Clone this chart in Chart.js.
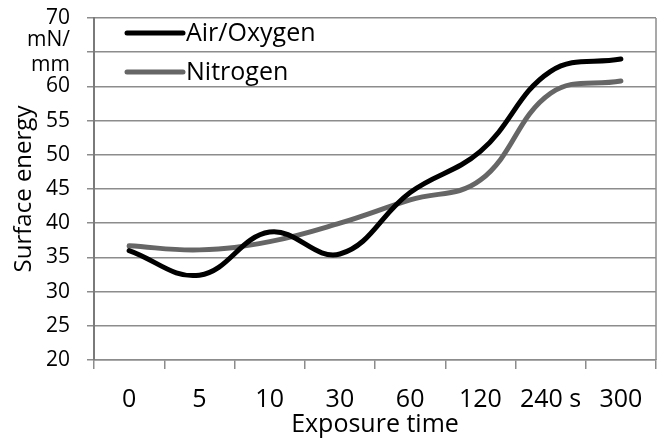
<!DOCTYPE html>
<html>
<head>
<meta charset="utf-8">
<script src="https://cdn.jsdelivr.net/npm/chart.js@4.4.0/dist/chart.umd.min.js"></script>
<style>
  html, body { margin: 0; padding: 0; background: #fff; }
  #wrap { width: 662px; height: 438px; position: relative; }
</style>
</head>
<body>
<div id="wrap"><canvas id="c" width="662" height="438"></canvas></div>
<script>
const categories = ['0', '5', '10', '30', '60', '120', '240 s', '300'];
const airOxygen = [36, 32.4, 38.7, 35.5, 44.5, 50.5, 62.2, 64];
const nitrogen = [36.7, 36.1, 37.3, 40, 43.4, 46.3, 59, 60.8];
const yMin = 20, yMax = 70, yStep = 5;
const unitTick = 65;
const unitLabel = ['mN/', 'mm'];

const FONT = '"Open Sans", sans-serif';

const frame = {
  id: 'frame',
  beforeDatasetsDraw(chart) {
    const { ctx, chartArea } = chart;
    ctx.save();
    ctx.strokeStyle = '#8c8c8c';
    ctx.lineWidth = 1.5;
    ctx.beginPath();
    ctx.moveTo(chartArea.right, chartArea.top);
    ctx.lineTo(chartArea.right, chartArea.bottom);
    ctx.stroke();
    ctx.restore();
  }
};

const insideLegend = {
  id: 'insideLegend',
  afterDraw(chart) {
    const { ctx } = chart;
    ctx.save();
    ctx.font = '25px ' + FONT;
    ctx.textBaseline = 'middle';
    const x0 = 127, len = 56;
    const rows = [33, 72];
    chart.data.datasets.forEach((ds, i) => {
      const y = rows[i];
      ctx.strokeStyle = ds.borderColor;
      ctx.lineWidth = 5;
      ctx.lineCap = 'round';
      ctx.beginPath();
      ctx.moveTo(x0, y);
      ctx.lineTo(x0 + len, y);
      ctx.stroke();
      ctx.fillStyle = '#000';
      ctx.fillText(ds.label, x0 + len + 3, y + 1);
    });
    ctx.restore();
  }
};

new Chart(document.getElementById('c'), {
  type: 'line',
  data: {
    labels: categories,
    datasets: [
      { label: 'Air/Oxygen', data: airOxygen, borderColor: '#000000', borderWidth: 5,
        pointRadius: 0, tension: 0.4, borderCapStyle: 'round', fill: false },
      { label: 'Nitrogen', data: nitrogen, borderColor: '#666666', borderWidth: 5,
        pointRadius: 0, tension: 0.4, borderCapStyle: 'round', fill: false }
    ]
  },
  options: {
    responsive: false,
    animation: false,
    layout: { padding: { top: 18, right: 6, left: 0, bottom: 0 } },
    plugins: { legend: { display: false }, tooltip: { enabled: false } },
    scales: {
      x: {
        offset: true,
        grid: { display: true, offset: true, drawOnChartArea: false, drawTicks: true,
                tickLength: 9, color: '#8c8c8c', lineWidth: 1.5 },
        border: { display: true, color: '#8c8c8c', width: 1.5 },
        ticks: { color: '#000', font: { family: FONT, size: 25 }, padding: 16, maxRotation: 0, autoSkip: false },
        title: { display: true, text: 'Exposure time', color: '#000',
                 font: { family: FONT, size: 25 }, padding: { top: -10, bottom: -2 } },
        afterFit(s) { s.height = 78; }
      },
      y: {
        min: yMin, max: yMax,
        grid: { color: '#8c8c8c', lineWidth: 1.5, tickLength: 7 },
        border: { display: true, color: '#7a7a7a', width: 2 },
        ticks: {
          stepSize: yStep, autoSkip: false, color: '#000', padding: 17,
          font: { family: FONT, size: 21, lineHeight: 1.2 },
          callback: (v) => v === unitTick ? unitLabel : String(v)
        },
        title: { display: true, text: 'Surface energy', color: '#000',
                 font: { family: FONT, size: 24 }, padding: { top: 10, bottom: 0 } },
        afterFit(s) { s.width = 94; s.paddingTop = 18; s.paddingBottom = 20; }
      }
    }
  },
  plugins: [frame, insideLegend]
});
</script>
</body>
</html>
